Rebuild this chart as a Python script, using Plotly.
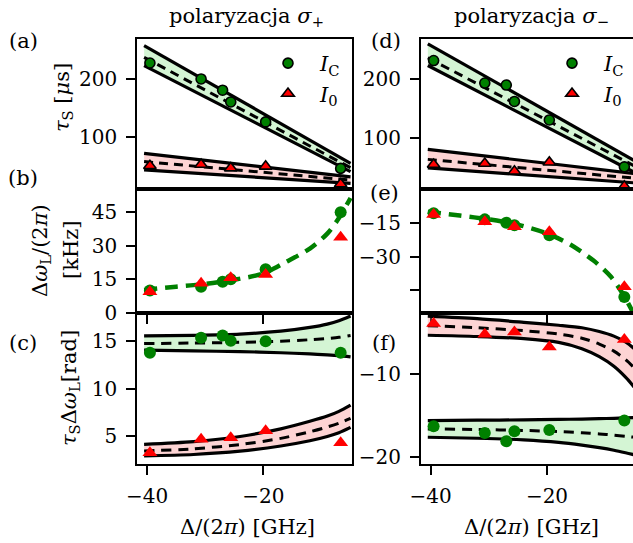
import plotly.graph_objects as go

# ---------------- data ----------------
det_C = [-39.5, -30.7, -27.0, -25.6, -19.6, -6.7]
det_0 = [-39.5, -30.7, -25.6, -19.6, -6.7]

# sigma+ polarisation
tau_C_plus = [226.4, 199.3, 180.2, 160.3, 126.4, 47.5]
tau_0_plus = [52, 54, 48, 51, 21]
dw_C_plus = [10.0, 11.7, 13.9, 15.0, 19.5, 45.1]
dw_0_plus = [9.4, 13.2, 15.7, 17.2, 33.9]
phi_C_plus = [13.77, 15.35, 15.6, 15.03, 15.0, 13.77]
phi_0_plus = [3.24, 4.65, 4.82, 5.56, 4.3]

# sigma- polarisation
tau_C_minus = [231.4, 193.1, 189.7, 161.7, 130.2, 50.3]
tau_0_minus = [54.2, 56.0, 42.7, 58.2, 17.0]
dw_C_minus = [-10.5, -13.2, -14.7, -15.8, -20.3, -48.0]
dw_0_minus = [-11.0, -14.3, -16.5, -18.8, -43.5]
phi_C_minus = [-16.29, -17.08, -18.09, -16.89, -16.72, -15.6]
phi_0_minus = [-4.0, -5.28, -5.0, -6.8, -5.92]

# fitted curves
fit_x_lin = [-40.5, -5.0]
tau_fit_C_plus_lo, tau_fit_C_plus_mid, tau_fit_C_plus_hi = [222, 42], [236, 48.6], [256, 56]
tau_fit_0_plus_lo, tau_fit_0_plus_mid, tau_fit_0_plus_hi = [45, 22], [59, 27.6], [73, 33]
tau_fit_C_minus_lo, tau_fit_C_minus_mid, tau_fit_C_minus_hi = [223, 41], [236, 52], [260, 61]
tau_fit_0_minus_lo, tau_fit_0_minus_mid, tau_fit_0_minus_hi = [48.5, 23], [63, 31], [80, 39]

fit_x_dw = [-40.5, -35, -30, -25, -20, -16, -12, -9, -7, -5]
dw_fit_plus = [10.2, 11.7, 12.9, 14.8, 17.6, 22.9, 28.8, 35.5, 42.5, 51.5]
dw_fit_minus = [-9.8, -11.5, -13.2, -15.6, -19.5, -24.5, -31.7, -39, -46.5, -56]

fit_x_phi_plus = [-40.5, -32, -24, -17, -12, -9, -7, -5]
phi_fit_C_plus_hi = [15.55, 15.62, 15.75, 16.05, 16.45, 16.8, 17.15, 17.65]
phi_fit_C_plus_mid = [14.75, 14.8, 14.88, 15.0, 15.15, 15.28, 15.4, 15.6]
phi_fit_C_plus_lo = [14.05, 13.97, 13.9, 13.78, 13.65, 13.55, 13.47, 13.35]
phi_fit_0_plus_hi = [4.12, 4.4, 4.95, 5.75, 6.55, 7.1, 7.6, 8.26]
phi_fit_0_plus_mid = [3.42, 3.65, 4.1, 4.75, 5.45, 5.95, 6.35, 6.86]
phi_fit_0_plus_lo = [2.9, 3.05, 3.4, 3.95, 4.5, 4.95, 5.35, 5.91]

fit_x_phi_minus = [-40.5, -32, -24, -18, -14, -11, -8.5, -6.5, -5.0]
phi_fit_0_minus_hi = [-3.12, -3.42, -3.85, -4.2, -4.5, -4.95, -5.5, -6.2, -7.0]
phi_fit_0_minus_mid = [-4.25, -4.5, -4.85, -5.25, -5.75, -6.45, -7.3, -8.3, -9.3]
phi_fit_0_minus_lo = [-5.4, -5.55, -5.8, -6.25, -7.0, -7.95, -9.1, -10.4, -11.6]
phi_fit_C_minus_hi = [-15.6, -15.56, -15.52, -15.47, -15.42, -15.38, -15.33, -15.28, -15.25]
phi_fit_C_minus_mid = [-16.6, -16.68, -16.78, -16.92, -17.07, -17.2, -17.35, -17.48, -17.6]
phi_fit_C_minus_lo = [-17.6, -17.72, -17.92, -18.22, -18.55, -18.85, -19.15, -19.45, -19.7]

# ---------------- styling ----------------
FONT = "DejaVu Serif"
FS_TICK = 20
FS = 21
GREEN = "#008000"
RED = "#ff0000"
GFILL = "rgba(120,225,120,0.32)"
RFILL = "rgba(250,130,130,0.34)"
W, H = 633, 543

fig = go.Figure()


def band(xs, lo, mid, hi, fillc, ax, dash="9px,6px", shape="linear"):
    xa, ya = ax
    ln = dict(color="black", width=3.2, shape=shape)
    if shape == "spline":
        ln["smoothing"] = 0.8
    fig.add_trace(go.Scatter(x=xs, y=lo, mode="lines", line=ln,
                             xaxis=xa, yaxis=ya, showlegend=False, hoverinfo="skip"))
    fig.add_trace(go.Scatter(x=xs, y=hi, mode="lines", line=ln,
                             fill="tonexty", fillcolor=fillc,
                             xaxis=xa, yaxis=ya, showlegend=False, hoverinfo="skip"))
    lm = dict(ln, width=3, dash=dash)
    fig.add_trace(go.Scatter(x=xs, y=mid, mode="lines", line=lm,
                             xaxis=xa, yaxis=ya, showlegend=False, hoverinfo="skip"))


def pts(xs, ys, kind, ax, outline=False, legend=None):
    xa, ya = ax
    if kind == "C":
        m = dict(symbol="circle", color=GREEN, size=10 if outline else 12,
                 line=dict(color="black", width=1.6 if outline else 0))
        name = "<i>I</i><sub>C</sub>"
    else:
        m = dict(symbol="triangle-up", color=RED, size=11 if outline else 13,
                 line=dict(color="black", width=1.6 if outline else 0))
        name = "<i>I</i><sub>0</sub>"
    fig.add_trace(go.Scatter(x=xs, y=ys, mode="markers", marker=m, name=name,
                             xaxis=xa, yaxis=ya, showlegend=legend is not None,
                             legend=legend if legend else "legend", cliponaxis=False))


# panel (a)
band(fit_x_lin, tau_fit_C_plus_lo, tau_fit_C_plus_mid, tau_fit_C_plus_hi, GFILL, ("x", "y"))
band(fit_x_lin, tau_fit_0_plus_lo, tau_fit_0_plus_mid, tau_fit_0_plus_hi, RFILL, ("x", "y"))
pts(det_C, tau_C_plus, "C", ("x", "y"), outline=True, legend="legend")
pts(det_0, tau_0_plus, "0", ("x", "y"), outline=True, legend="legend")

# panel (b)
fig.add_trace(go.Scatter(x=fit_x_dw, y=dw_fit_plus, mode="lines",
                         line=dict(color=GREEN, width=4.5, dash="13px,8px", shape="spline", smoothing=0.8),
                         xaxis="x2", yaxis="y2", showlegend=False))
pts(det_C, dw_C_plus, "C", ("x2", "y2"))
pts(det_0, dw_0_plus, "0", ("x2", "y2"))

# panel (c)
band(fit_x_phi_plus, phi_fit_C_plus_lo, phi_fit_C_plus_mid, phi_fit_C_plus_hi, GFILL, ("x3", "y3"),
     dash="10px,7px", shape="spline")
band(fit_x_phi_plus, phi_fit_0_plus_lo, phi_fit_0_plus_mid, phi_fit_0_plus_hi, RFILL, ("x3", "y3"),
     dash="10px,7px", shape="spline")
pts(det_C, phi_C_plus, "C", ("x3", "y3"))
pts(det_0, phi_0_plus, "0", ("x3", "y3"))

# panel (d)
band(fit_x_lin, tau_fit_C_minus_lo, tau_fit_C_minus_mid, tau_fit_C_minus_hi, GFILL, ("x4", "y4"))
band(fit_x_lin, tau_fit_0_minus_lo, tau_fit_0_minus_mid, tau_fit_0_minus_hi, RFILL, ("x4", "y4"))
pts(det_C, tau_C_minus, "C", ("x4", "y4"), outline=True, legend="legend2")
pts(det_0, tau_0_minus, "0", ("x4", "y4"), outline=True, legend="legend2")

# panel (e)
fig.add_trace(go.Scatter(x=fit_x_dw, y=dw_fit_minus, mode="lines",
                         line=dict(color=GREEN, width=4.5, dash="13px,8px", shape="spline", smoothing=0.8),
                         xaxis="x5", yaxis="y5", showlegend=False))
pts(det_C, dw_C_minus, "C", ("x5", "y5"))
pts(det_0, dw_0_minus, "0", ("x5", "y5"))

# panel (f)
band(fit_x_phi_minus, phi_fit_0_minus_lo, phi_fit_0_minus_mid, phi_fit_0_minus_hi, RFILL, ("x6", "y6"),
     dash="10px,7px", shape="spline")
band(fit_x_phi_minus, phi_fit_C_minus_lo, phi_fit_C_minus_mid, phi_fit_C_minus_hi, GFILL, ("x6", "y6"),
     dash="10px,7px", shape="spline")
pts(det_C, phi_C_minus, "C", ("x6", "y6"))
pts(det_0, phi_0_minus, "0", ("x6", "y6"))

# ---------------- layout ----------------
def px_x(p):
    return p / W


def px_y(p):
    return 1 - p / H


LEFT_DOM = [px_x(137.3), px_x(352)]
RIGHT_DOM = [px_x(421), 1.0]
ROW_A = [px_y(189.3), px_y(38.5)]
ROW_B = [px_y(312.7), px_y(189.3)]
ROW_C = [px_y(464), px_y(312.7)]
XR_L = [-41.67, -4.75]
XR_R = [-41.67, -5.21]

tickfont = dict(family=FONT, size=FS_TICK, color="black")


def xax(dom, rng, anchor, ticks, labels, mirror=True):
    return dict(domain=dom, range=rng, anchor=anchor, showgrid=False, zeroline=False,
                showline=True, linecolor="black", linewidth=2, mirror=mirror,
                ticks="outside" if ticks else "", ticklen=9, tickwidth=1.5, tickcolor="black",
                tickvals=[-40, -20], showticklabels=labels, tickfont=tickfont,
                ticklabelstandoff=4)


def yax(dom, rng, anchor, tickvals, ticktext=None, mirror=True):
    d = dict(domain=dom, range=rng, anchor=anchor, showgrid=False, zeroline=False,
             showline=True, linecolor="black", linewidth=2, mirror=mirror,
             ticks="outside", ticklen=9, tickwidth=1.5, tickcolor="black",
             tickvals=tickvals, tickfont=tickfont, ticklabelstandoff=5)
    if ticktext is not None:
        d["ticktext"] = ticktext
    return d


legend_common = dict(xanchor="left", yanchor="top", bgcolor="rgba(0,0,0,0)",
                     itemwidth=54, traceorder="normal", font=dict(family=FONT, size=FS))

layout = dict(
    width=W, height=H, margin=dict(l=0, r=0, t=0, b=0, autoexpand=False),
    paper_bgcolor="white", plot_bgcolor="white",
    font=dict(family=FONT, size=FS, color="black"),
    xaxis=xax(LEFT_DOM, XR_L, "y", False, False),
    yaxis=yax(ROW_A, [12, 268], "x", [100, 200]),
    xaxis2=xax(LEFT_DOM, XR_L, "y2", True, False),
    yaxis2=yax(ROW_B, [0, 55.4], "x2", [0, 15, 30, 45]),
    xaxis3=xax(LEFT_DOM, XR_L, "y3", True, True),
    yaxis3=yax(ROW_C, [2.05, 18.0], "x3", [5, 10, 15]),
    xaxis4=xax(RIGHT_DOM, XR_R, "y4", False, False),
    yaxis4=yax(ROW_A, [12, 269], "x4", [100, 200], mirror=False),
    xaxis5=xax(RIGHT_DOM, XR_R, "y5", True, False),
    yaxis5=yax(ROW_B, [-55.1, 0.3], "x5", [-15, -30, -45], ["\u221215", "\u221230", ""], mirror=False),
    xaxis6=xax(RIGHT_DOM, XR_R, "y6", True, True),
    yaxis6=yax(ROW_C, [-20.8, -2.7], "x6", [-10, -20], mirror=False),
    legend=dict(x=px_x(256), y=px_y(43), **legend_common),
    legend2=dict(x=px_x(540), y=px_y(43), **legend_common),
)
fig.update_layout(**layout)

ann = []


def text(x, y, s, angle=0):
    ann.append(dict(x=px_x(x), y=px_y(y), xref="paper", yref="paper", text=s,
                    showarrow=False, xanchor="center", yanchor="middle", textangle=angle,
                    font=dict(family=FONT, size=FS, color="black")))


text(246, 17, "polaryzacja <i>σ</i><sub>+</sub>")
text(531, 17, "polaryzacja <i>σ</i><sub>−</sub>")
text(23, 41, "(a)")
text(23, 178, "(b)")
text(23, 343, "(c)")
text(386, 41, "(d)")
text(384, 193, "(e)")
text(384, 343, "(f)")
text(63, 98, "<i>τ</i><sub>S</sub> [<i>μ</i>s]", -90)
text(41, 250, "Δ<i>ω</i><sub>L</sub>/(2<i>π</i>)", -90)
text(71, 250, "[kHz]", -90)
text(70, 388, "<i>τ</i><sub>S</sub>Δ<i>ω</i><sub>L</sub>[rad]", -90)
text(247, 527, "Δ/(2<i>π</i>) [GHz]")
text(531, 527, "Δ/(2<i>π</i>) [GHz]")
fig.update_layout(annotations=ann)

fig.write_html(
    "out.html",
    config={"displayModeBar": False},
    post_script="document.body.style.margin='0';document.body.style.overflow='hidden';",
)
